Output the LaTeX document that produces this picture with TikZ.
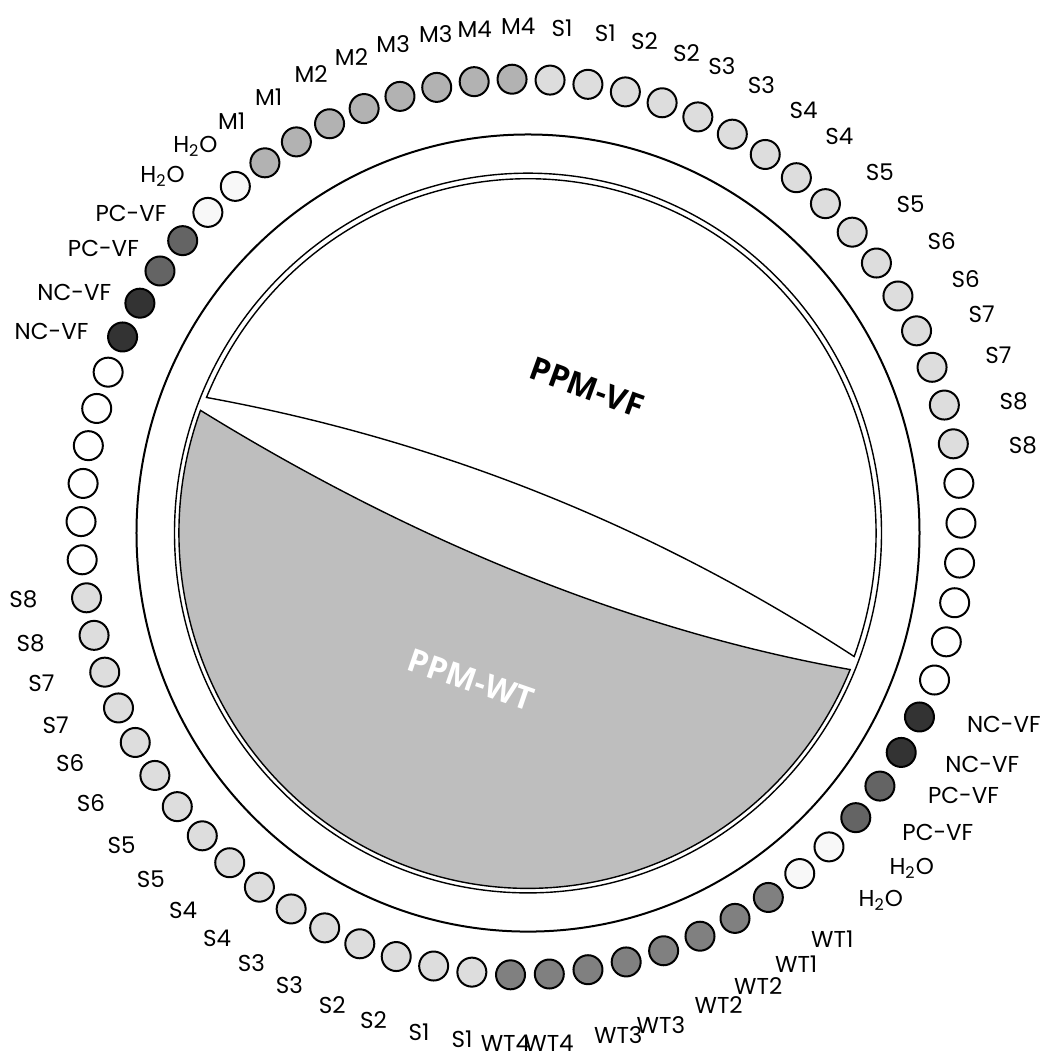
\documentclass[tikz,border=0pt]{standalone}
\usepackage{fontspec}
\newfontfamily\wellfont{Poppins}
\newfontfamily\mixfont{Open Sans}
\definecolor{sfill}{HTML}{DDDDDD}
\definecolor{mfill}{HTML}{B2B2B2}
\definecolor{wtfill}{HTML}{808080}
\definecolor{pcfill}{HTML}{646464}
\definecolor{ncfill}{HTML}{333333}
\definecolor{hfill}{HTML}{F8F8F8}
\definecolor{efill}{HTML}{FFFFFF}
\definecolor{wtmix}{HTML}{BEBEBE}

\begin{document}
\begin{tikzpicture}[x=0.5pt,y=0.509pt,
	ring/.style={line width=1pt},
	seg/.style={line width=0.7pt},
	well/.style={circle,draw,line width=1pt,minimum size=14.5pt,inner sep=0pt},
	lbl/.style={font=\wellfont\fontsize{11.5}{13}\selectfont,inner sep=0pt},
	mix/.style={font=\mixfont\bfseries\fontsize{16}{18}\selectfont,inner sep=0pt}]
	\useasboundingbox (-528,-513.8) rectangle (530,523.6);
	\draw[ring] (0,0) circle[radius=391.5];
	\draw[seg] (0,0) circle[radius=353.5];
	\coordinate (vfa) at (157.5:348);
	\coordinate (vfb) at (-20.4:348);
	\coordinate (wta) at (159.8:349);
	\draw[seg,fill=white] (vfb) arc[start angle=-20.4,end angle=157.5,radius=348]
		.. controls (-105,94.3) and (112,15.7) .. (vfb) -- cycle;
	\draw[seg,fill=wtmix] (wta) arc[start angle=159.8,end angle=337.4,radius=349]
		.. controls (110,-97.2) and (-111,-10.8) .. (wta) -- cycle;
	\node[mix,rotate=-20] (vf) at (59,143.4) {PPM-VF};
	\node[mix,white,rotate=-19] (wt) at (-57,-144.4) {PPM-WT};
	\foreach \kind/\lab/\ds [count=\j from 0] in {
		sfill/S1/0,sfill/S2/0.4,sfill/S3/1.1,sfill/S4/0.5,sfill/S5/-0.6,sfill/S6/-1,sfill/S7/-0.3,sfill/S8/-0.7,
		efill/{}/0,efill/{}/0,efill/{}/0,ncfill/NC-VF/3,pcfill/PC-VF/4,hfill/H\textsubscript{2}O/4,
		wtfill/WT1/2,wtfill/WT2/2,wtfill/WT3/0,wtfill/WT4/-3,
		sfill/S1/-3,sfill/S2/-3.4,sfill/S3/-3.8,sfill/S4/-3.6,sfill/S5/-3.7,sfill/S6/-4.5,sfill/S7/-4,sfill/S8/-3.6,
		efill/{}/0,efill/{}/0,efill/{}/0,ncfill/NC-VF/1.3,pcfill/PC-VF/0.5,hfill/H\textsubscript{2}O/0,
		mfill/M1/0,mfill/M2/-0.5,mfill/M3/-0.5,mfill/M4/0}
		\foreach \h in {0,1} {
			\pgfmathtruncatemacro{\n}{2*\j+\h}
			\pgfmathsetmacro{\tc}{4.75+5*\n}
			\pgfmathsetmacro{\ang}{90-\tc-0.35+1.4*cos(\tc-25)}
			\pgfmathsetmacro{\lang}{85.77-5*\n+(\ds)}
			\pgfmathsetmacro{\lanc}{\lang+180}
			\node[well,fill=\kind] (w\n) at ({-7+440*cos(\ang)},{5.9+440*sin(\ang)}) {};
			\node[lbl,anchor=\lanc] (l\n) at ({-3+491*cos(\lang)},{-2+491*sin(\lang)}) {\lab};
		}
\end{tikzpicture}
\end{document}
